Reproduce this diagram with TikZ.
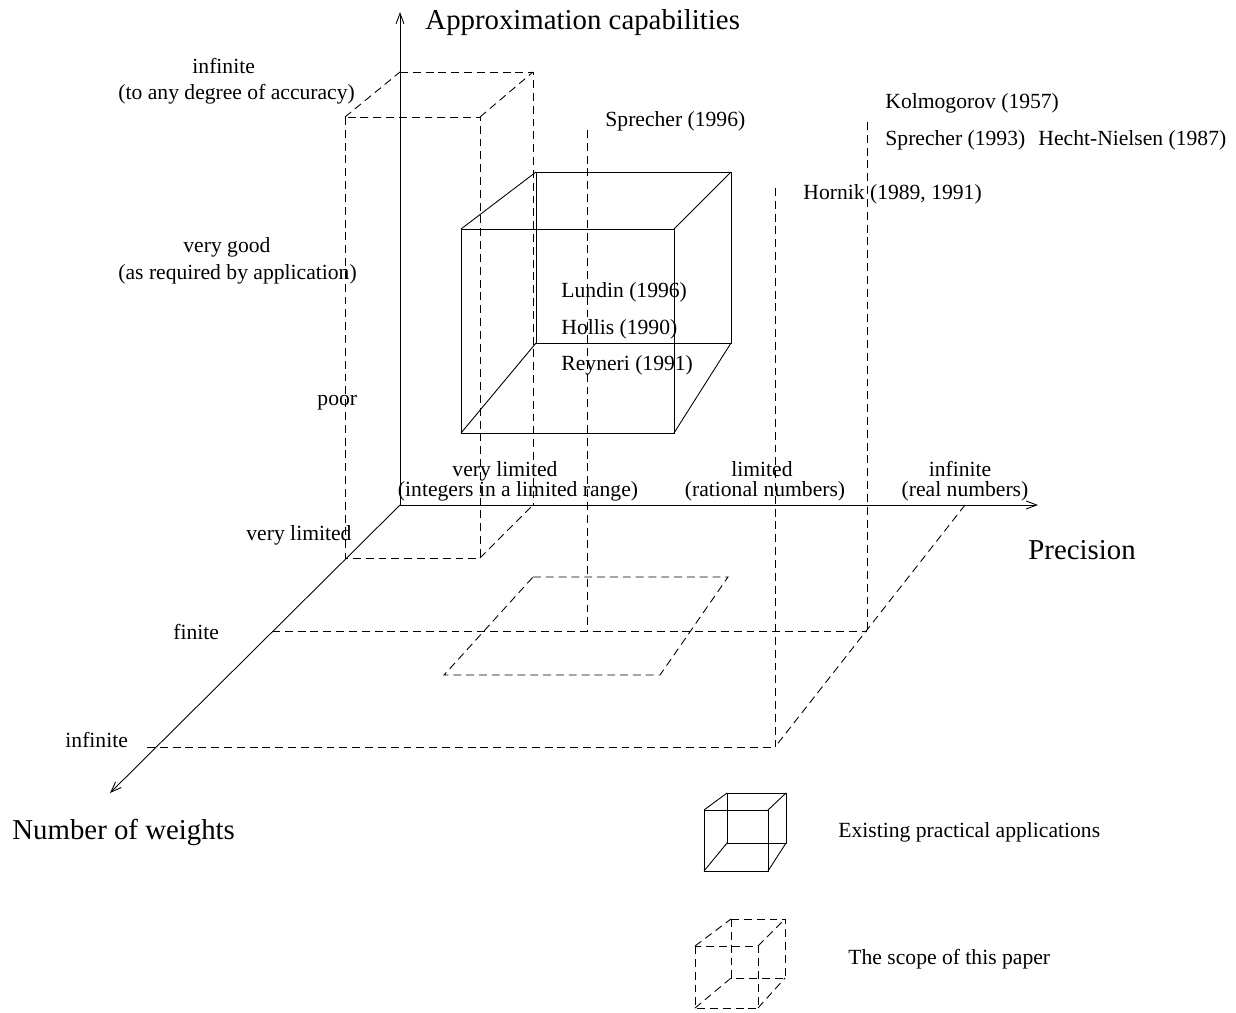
\documentclass[tikz,border=0pt]{standalone}
\usepackage{fontspec}
\setmainfont{Liberation Serif}
\usetikzlibrary{arrows.meta}
\newcommand{\txtsmall}{\fontsize{12.3}{14.8}\selectfont}
\newcommand{\txtbig}{\fontsize{16.4}{19.7}\selectfont}
\tikzset{
  scopeline/.style={dash pattern=on 4.5pt off 2.8pt},
  lbl/.style={anchor=base west, inner sep=0pt, font=\txtsmall},
  lblc/.style={anchor=base, inner sep=0pt, font=\txtsmall},
  axlbl/.style={anchor=base west, inner sep=0pt, font=\txtbig}
}
\begin{document}
\begin{tikzpicture}[x=0.02cm,y=-0.02cm,line width=0.5pt,>={Straight Barb[length=6pt,width=4.5pt]}]
		\useasboundingbox (0,0) rectangle (1236,1012);
		\coordinate (O) at (400,505);
		% axes
		\draw[->] (O) -- (400,12);
		\draw[->] (O) -- (1038,505);
		\draw[->] (O) -- (110,793);
		\node[axlbl] (capab) at (425,29) {Approximation capabilities};
		\node[axlbl] (prec) at (1028,559) {Precision};
		\node[axlbl] (nweights) at (12,839) {Number of weights};
		% scope of the paper (dashed box)
		\draw[scopeline] (345,117) rectangle (480,558);
		\draw[scopeline] (400,72) -- (533,72) -- (533,505);
		\draw[scopeline] (345,117) -- (400,72) (480,117) -- (533,72) (480,558) -- (533,505);
		% floor lines
		\draw[scopeline] (272,631) -- (867,631);
		\draw[scopeline] (147,747) -- (775,747);
		\draw[scopeline] (965,505) -- (775,747);
		\draw[scopeline] (533,577) -- (728,577) -- (660,675) -- (444,675) -- cycle;
		% verticals of the theoretical results
		\draw[scopeline] (587,130) -- (587,631);
		\draw[scopeline] (775,188) -- (775,747);
		\draw[scopeline] (867,122) -- (867,631);
		% practical applications (solid cube)
		\draw (461,229) rectangle (674,433);
		\draw (536,172) rectangle (731,343);
		\draw (461,229) -- (536,172) (674,229) -- (731,172) (674,433) -- (731,343) (461,433) -- (536,343);
		% labels of the vertical axis
		\node[lbl] (inf1) at (192,73) {infinite};
		\node[lbl] (inf2) at (118,99) {(to any degree of accuracy)};
		\node[lbl] (good1) at (183,252) {very good};
		\node[lbl] (good2) at (118,279) {(as required by application)};
		\node[lbl] (poor) at (317,405) {poor};
		% labels of the weights axis
		\node[lbl] (wvlim) at (246,540) {very limited};
		\node[lbl] (wfin) at (173,639) {finite};
		\node[lbl] (winf) at (65,747) {infinite};
		% labels of the precision axis
		\node[lblc] (pvlim1) at (505,476) {very limited};
		\node[lblc] (pvlim2) at (518,496) {(integers in a limited range)};
		\node[lblc] (plim1) at (762,476) {limited};
		\node[lblc] (plim2) at (765,496) {(rational numbers)};
		\node[lblc] (pinf1) at (960,476) {infinite};
		\node[lblc] (pinf2) at (965,496) {(real numbers)};
		% authors
		\node[lbl] (spr96) at (605,126) {Sprecher (1996)};
		\node[lbl] (kolm) at (885,108) {Kolmogorov (1957)};
		\node[lbl] (spr93) at (885,145) {Sprecher (1993)};
		\node[lbl] (hecht) at (1038,145) {Hecht-Nielsen (1987)};
		\node[lbl] (hornik) at (803,199) {Hornik (1989, 1991)};
		\node[lbl] (lundin) at (561,297) {Lundin (1996)};
		\node[lbl] (hollis) at (561,334) {Hollis (1990)};
		\node[lbl] (reyneri) at (561,370) {Reyneri (1991)};
		% legend
		\draw (704,810) rectangle (768,871);
		\draw (727,793) rectangle (786,843);
		\draw (704,810) -- (727,793) (768,810) -- (786,793) (768,871) -- (786,843) (704,871) -- (727,843);
		\node[lbl] (legpract) at (838,837) {Existing practical applications};
		\draw[scopeline] (695,946) rectangle (758,1008);
		\draw[scopeline] (731,919) rectangle (785,978);
		\draw[scopeline] (695,946) -- (731,919) (758,946) -- (785,919) (758,1008) -- (785,978) (695,1008) -- (731,978);
		\node[lbl] (legscope) at (848,964) {The scope of this paper};
	\end{tikzpicture}
\end{document}
